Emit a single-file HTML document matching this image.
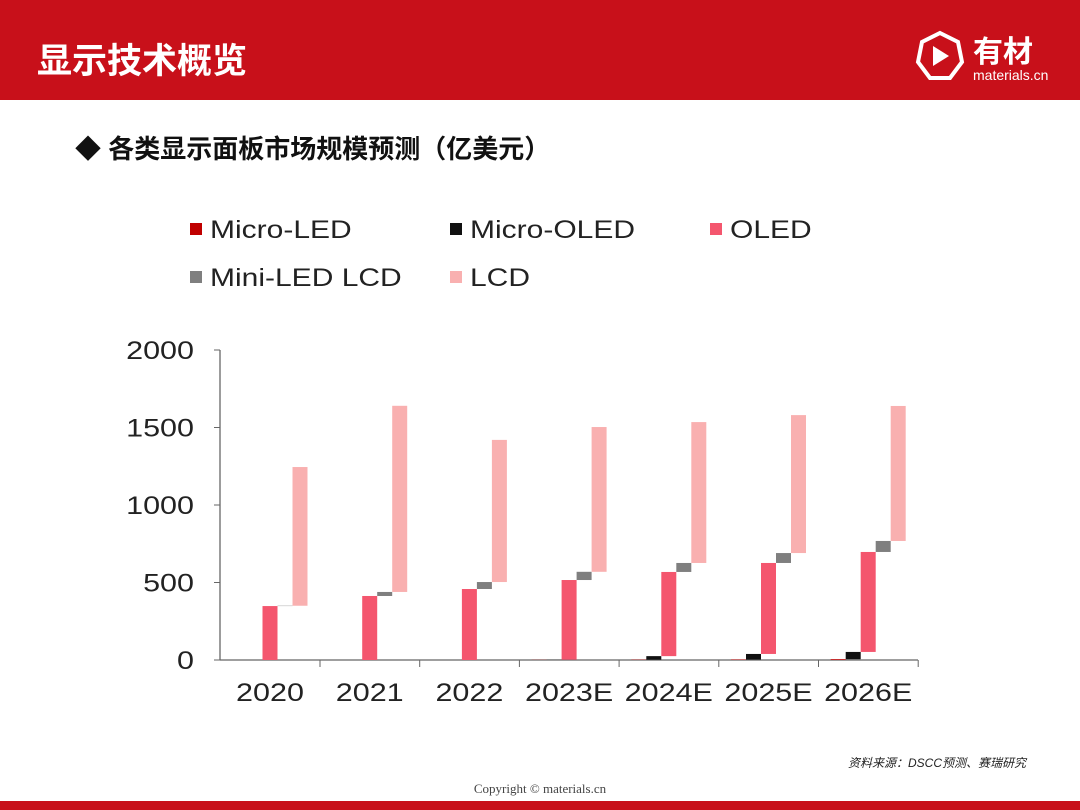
<!DOCTYPE html>
<html><head><meta charset="utf-8">
<style>
body{margin:0;width:1080px;height:810px;background:#fff;position:relative;overflow:hidden;font-family:"Liberation Sans","Noto Sans CJK SC",sans-serif}
.hdr{position:absolute;left:0;top:0;width:1080px;height:100px;background:#c8101a}
.ttl{position:absolute;left:37px;top:33px;color:#fff;font-size:35px;font-weight:bold}
.sub{position:absolute;left:75px;top:129px;font-size:26px;font-weight:bold;color:#111}
.src{position:absolute;left:848px;top:754px;font-size:12px;font-style:italic;color:#222}
.cp{position:absolute;left:0;width:1080px;top:781px;text-align:center;font-family:"Liberation Serif",serif;font-size:13px;color:#444}
.bot{position:absolute;left:0;top:801px;width:1080px;height:9px;background:#c8101a}
</style></head><body>
<div class="hdr"></div>
<div class="ttl">显示技术概览</div>
<svg style="position:absolute;left:915px;top:30px" width="160" height="60">
<polygon points="25,3 43,12 47,32 35,48 15,48 3,32 7,12" fill="none" stroke="#fff" stroke-width="4"/>
<polygon points="18,16 34,26 18,36" fill="#fff"/>
<text x="58" y="32" fill="#fff" font-size="30" font-weight="bold" font-family="Noto Sans CJK SC,sans-serif">有材</text>
<text x="58" y="50" fill="#fff" font-size="14" font-family="Liberation Sans,sans-serif">materials.cn</text>
</svg>
<div class="sub">◆ 各类显示面板市场规模预测（亿美元）</div>
<svg id="chart" style="position:absolute;left:0;top:0" width="1080" height="810"></svg>
<div class="src">资料来源：DSCC预测、赛瑞研究</div>
<div class="cp">Copyright © materials.cn</div>
<div class="bot"></div>
<script>
const categories=["2020","2021","2022","2023E","2024E","2025E","2026E"];
const seriesNames=["Micro-LED","Micro-OLED","OLED","Mini-LED LCD","LCD"];
const microLED=[0,0,0,1,2,3,5];
const microOLED=[0,0,0,1,23,36,47];
const oled=[348,413,458,514,543,587,645];
const miniLED=[2,26,45,53,58,64,71];
const lcd=[895,1201,917,934,909,890,871];
const yTicks=[0,500,1000,1500,2000];
const colors=["#c00000","#111111","#f4566e","#7f7f7f","#f9b0b0"];
const NS="http://www.w3.org/2000/svg";
const svg=document.getElementById('chart');
function y(v){return 660-v*0.155;}
function xc(i){return 270+i*99.7;}
function mk(t,a,p){const e=document.createElementNS(NS,t);for(const k in a)e.setAttribute(k,a[k]);(p||svg).appendChild(e);return e;}
function stretch(t,f){const w=t.getComputedTextLength();t.setAttribute('textLength',w*f);t.setAttribute('lengthAdjust','spacingAndGlyphs');}
let ax=mk('line',{x1:220,y1:350,x2:220,y2:660,stroke:'#666','stroke-width':1.3});

let bx=mk('line',{x1:220,y1:660,x2:918,y2:660,stroke:'#666','stroke-width':1.3});

yTicks.forEach(v=>{
  mk('line',{x1:214,y1:y(v),x2:220,y2:y(v),stroke:'#666'});
  const t=mk('text',{x:194,y:y(v)+9,'text-anchor':'end','font-size':25,fill:'#222'});
  t.textContent=v;
  
  stretch(t,1.22);
});
const data=[microLED,microOLED,oled,miniLED,lcd];
categories.forEach((c,i)=>{
  mk('line',{x1:xc(i)+50,y1:660,x2:xc(i)+50,y2:667,stroke:'#666'});
  const t=mk('text',{x:xc(i),y:701,'text-anchor':'middle','font-size':25,fill:'#222'});
  t.textContent=c;
  
  stretch(t,1.22);
  let base=0;
  data.forEach((s,k)=>{
    const v=s[i];
    const r=mk('rect',{x:xc(i)+(k-2)*15-7.5,y:y(base+v),width:15,height:Math.max(v*0.155,0),fill:colors[k]});
    
    
    base+=v;
  });
});
const legPos=[[190,229],[450,229],[710,229],[190,277],[450,277]];
seriesNames.forEach((n,k)=>{
  const g=mk('g',{});
  
  mk('rect',{x:legPos[k][0],y:legPos[k][1]-6,width:12,height:12,fill:colors[k]},g);
  const t=mk('text',{x:legPos[k][0]+20,y:legPos[k][1]+9,'font-size':25,fill:'#222'},g);
  t.textContent=n;
  stretch(t,1.2);
});
</script>
</body></html>
